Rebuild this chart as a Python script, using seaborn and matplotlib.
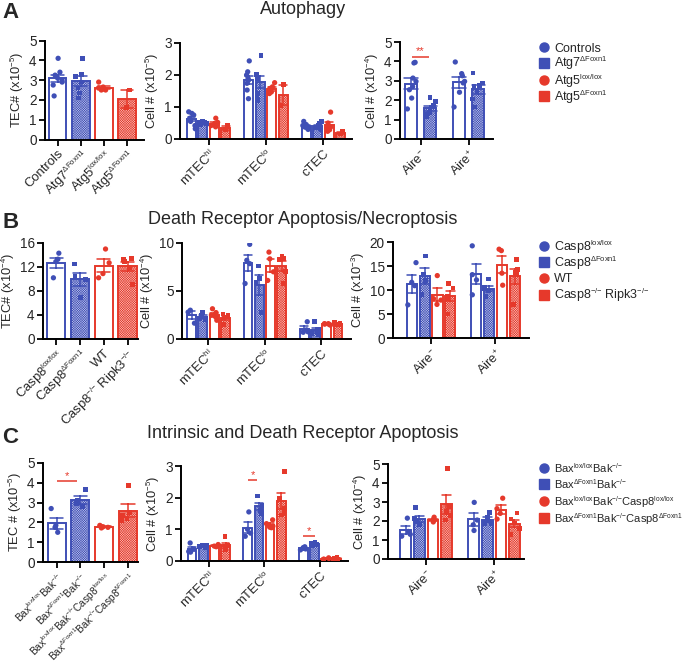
import numpy as np
import pandas as pd
import matplotlib
matplotlib.use("Agg")
import matplotlib.pyplot as plt
import seaborn as sns
from matplotlib.lines import Line2D

sns.set_theme(style="ticks")
plt.rcParams['font.family'] = ['Liberation Sans', 'DejaVu Sans']
plt.rcParams['mathtext.fontset'] = 'custom'
plt.rcParams['mathtext.rm'] = 'Liberation Sans'
plt.rcParams['mathtext.it'] = 'Liberation Sans:italic'
plt.rcParams['mathtext.default'] = 'regular'
plt.rcParams['hatch.linewidth'] = 0.35
# smaller superscripts, as in the original figure
try:
    import matplotlib._mathtext as _mt
    _mt.SHRINK_FACTOR = 0.6
except Exception:
    pass
np.random.seed(3)

# --- colours / styles per genotype slot ---
BLUE, RED = "#3f4fb6", "#e6392b"
COLORS = [BLUE, BLUE, RED, RED]
LIGHT = ["white", "#c3c7ea", "white", "#f6c2bc"]
HATCHED = [False, True, False, True]
MARKERS = ["o", "s", "o", "s"]

MM = "{-}/{-}"
cells = ["mTEC$^{hi}$", "mTEC$^{lo}$", "cTEC"]
aire = ["Aire$^{-}$", "Aire$^{+}$"]

# --- A: Autophagy ---
geno_a = ["Controls", "Atg7$^{ΔFoxn1}$", "Atg5$^{lox/lox}$", "Atg5$^{ΔFoxn1}$"]
tec_a = [[4.1, 3.4, 3.25, 3.1, 3.0, 2.9, 2.75, 2.2],
         [4.1, 3.3, 3.2, 2.9, 2.6, 2.35, 2.1],
         [2.9, 2.65, 2.6, 2.55, 2.5, 2.5],
         [2.5, 1.6]]
mtechi_a = [[0.85, 0.8, 0.75, 0.65, 0.6, 0.55, 0.42, 0.32],
            [0.55, 0.52, 0.5, 0.48, 0.45, 0.53, 0.5],
            [0.65, 0.52, 0.48, 0.45, 0.42, 0.38],
            [0.42, 0.29]]
mteclo_a = [[2.44, 2.1, 2.0, 1.9, 1.84, 1.74, 1.53, 1.26],
            [2.6, 2.03, 2.0, 1.9, 1.42, 1.26, 1.21],
            [1.76, 1.63, 1.58, 1.53, 1.47, 1.42],
            [1.7, 1.05]]
ctec_a = [[0.55, 0.45, 0.42, 0.4, 0.37, 0.33, 0.3, 0.36],
          [0.55, 0.48, 0.42, 0.38, 0.34, 0.3, 0.33],
          [0.84, 0.5, 0.38, 0.34, 0.29, 0.24],
          [0.23, 0.16]]
aire_neg_a = [[3.95, 3.92, 3.14, 2.97, 2.7, 2.54, 2.11, 1.55],
              [2.15, 1.94, 1.72, 1.51, 1.34, 1.25, 1.17]]
aire_pos_a = [[3.97, 3.37, 3.26, 2.97, 2.89, 2.41, 1.65],
              [3.4, 2.89, 2.75, 2.71, 2.46, 2.06, 1.65]]

# --- B: Death receptor apoptosis / necroptosis ---
geno_b = ["Casp8$^{lox/lox}$", "Casp8$^{ΔFoxn1}$", "WT",
          "Casp8$^{" + MM + "}$ Ripk3$^{" + MM + "}$"]
tec_b = [[14.3, 13.3, 12.9, 10.2], [12.5, 10.4, 9.9, 6.9],
         [15.0, 12.7, 10.9, 10.2], [13.4, 13.2, 12.9, 11.9, 9.1]]
mtechi_b = [[3.0, 2.8, 1.65], [2.75, 2.5, 2.2, 2.0, 2.1],
            [3.15, 2.75, 2.5, 2.3, 1.95], [2.6, 2.45, 2.35, 2.2, 1.5]]
mteclo_b = [[9.86, 8.2, 7.85, 5.78], [7.6, 6.3, 5.9, 2.75],
            [9.05, 8.35, 7.0, 6.1], [8.6, 8.4, 8.3, 7.0, 5.8]]
ctec_b = [[1.8, 0.95, 0.75, 0.7], [1.8, 1.05, 0.7, 0.5, 0.6],
          [1.6, 1.55, 1.5, 1.45, 1.6], [1.7, 1.6, 1.55, 1.5, 1.45]]
aire_neg_b = [[15.7, 11.6, 10.9, 6.9], [17.1, 13.2, 12.0, 9.1],
              [13.0, 8.2, 7.9, 7.0], [11.3, 10.4, 8.7, 8.3, 5.0]]
aire_pos_b = [[19.2, 13.2, 12.1, 9.0], [12.3, 10.6, 10.2, 9.8, 8.6],
              [18.5, 18.2, 13.5, 11.0], [16.3, 14.2, 13.6, 13.2, 7.0]]

# --- C: Intrinsic and death receptor apoptosis ---
geno_c = ["Bax$^{lox/lox}$Bak$^{" + MM + "}$",
          "Bax$^{ΔFoxn1}$Bak$^{" + MM + "}$",
          "Bax$^{lox/lox}$Bak$^{" + MM + "}$Casp8$^{lox/lox}$",
          "Bax$^{ΔFoxn1}$Bak$^{" + MM + "}$Casp8$^{ΔFoxn1}$"]
tec_c = [[2.7, 1.85, 1.75, 1.5], [3.65, 3.1, 2.95, 2.8],
         [1.85, 1.8, 1.75, 1.72, 1.78], [3.85, 2.5, 2.35, 2.2, 2.1]]
mtechi_c = [[0.57, 0.38, 0.3, 0.28], [0.5, 0.48, 0.45, 0.42],
            [0.52, 0.5, 0.47, 0.45], [0.77, 0.5, 0.45, 0.35, 0.45]]
mteclo_c = [[1.55, 1.0, 0.88, 0.78], [2.05, 1.75, 1.6, 1.5],
            [1.3, 1.18, 1.1, 1.05, 1.07], [2.82, 1.98, 1.65, 1.5, 1.45]]
ctec_c = [[0.45, 0.42, 0.38, 0.35, 0.4], [0.58, 0.55, 0.52, 0.5],
          [0.1, 0.08, 0.05, 0.06], [0.1, 0.08, 0.06, 0.04, 0.07]]
aire_neg_c = [[2.15, 1.45, 1.3, 1.2], [2.7, 2.15, 2.0, 1.95, 1.8],
              [2.2, 2.1, 2.05, 1.95], [4.75, 2.75, 2.5, 2.3, 2.05]]
aire_pos_c = [[2.98, 2.05, 1.8, 1.5], [2.45, 2.2, 2.0, 1.85, 1.85],
              [3.2, 2.65, 2.4, 2.1], [2.42, 2.1, 1.9, 1.6, 1.3]]


def long_df(cats, groups, genos):
    rows = []
    for cat, per_geno in zip(cats, groups):
        for g, vals in zip(genos, per_geno):
            rows += [(cat, g, v) for v in vals]
    return pd.DataFrame(rows, columns=["cat", "geno", "value"])


def draw(ax, df, x, order, genos, width, jitter, gap=0.0):
    n = len(genos)
    pal = dict(zip(genos, COLORS[:n]))
    dodge = x != "geno"
    sns.barplot(data=df, x=x, y="value", hue="geno", order=order, hue_order=genos,
                palette=pal, errorbar="se", capsize=0.55, width=width, gap=gap,
                dodge=dodge, fill=False, linewidth=1.4,
                err_kws={"linewidth": 1.1}, legend=False, ax=ax)
    for k, cont in enumerate(ax.containers):
        for bar in cont:
            bar.set_facecolor(LIGHT[k])
            if HATCHED[k]:
                bar.set_hatch("x" * 14)
    for shape, idx, sz in (("o", [0, 2], 3.8), ("s", [1, 3], 3.4)):
        keep = [genos[i] for i in idx if i < n]
        sub = df[df["geno"].isin(keep)]
        sns.stripplot(data=sub, x=x, y="value", hue="geno", order=order,
                      hue_order=genos, palette=pal, dodge=dodge, jitter=jitter,
                      marker=shape, size=sz, linewidth=0, legend=False,
                      zorder=3, ax=ax)


def style(ax, xlim, top, yticks, ylabel, xfs=9):
    ax.set_xlim(*xlim)
    ax.set_ylim(0, top)
    ax.set_yticks(yticks)
    ax.set_xlabel("")
    ax.set_ylabel(ylabel, fontsize=9.3, labelpad=2)
    sns.despine(ax=ax)
    for s in ("left", "bottom"):
        ax.spines[s].set_linewidth(1.4)
        ax.spines[s].set_color("black")
    ax.tick_params(width=1.3, length=4, labelsize=9.8, pad=2, color="black")
    for lab in ax.get_xticklabels():
        lab.set_rotation(45)
        lab.set_ha("right")
        lab.set_rotation_mode("anchor")
        lab.set_fontsize(xfs)


def sig(ax, x0, x1, y, text):
    ax.plot([x0, x1], [y, y], color=RED, lw=1.1, solid_capstyle="butt")
    ax.text((x0 + x1) / 2, y, text, color=RED, ha="center", va="bottom", fontsize=8)


W, H = 685, 665
fig = plt.figure(figsize=(W / 100, H / 100), dpi=100)


def add_ax(x0, x1, ytop, ybot):
    return fig.add_axes([x0 / W, 1 - ybot / H, (x1 - x0) / W, (ybot - ytop) / H])


def key(genos, ys, fs):
    # legend drawn entry by entry so the rows keep an even pitch
    for g, y, m, c in zip(genos, ys, MARKERS, COLORS):
        fig.add_artist(Line2D([544 / W], [1 - y / H], transform=fig.transFigure,
                              marker=m, color=c, linestyle="none", markersize=6.5))
        fig.text(554 / W, 1 - (y + 4.5) / H, g, fontsize=fs, va="baseline")


rows = [
    ("A", "Autophagy", 18, 14, geno_a, tec_a, [mtechi_a, mteclo_a, ctec_a],
     [aire_neg_a, aire_pos_a], 2,
     [(45, 144, 40.5, 139.5), (180, 352, 43, 139), (400, 493, 42, 139)],
     [(-0.54, 3.73), (-0.5, 2.5), (-0.43, 1.51)],
     [(5, range(6), "TEC# (x10$^{-5}$)"), (3, range(4), "Cell # (x10$^{-5}$)"),
      (5, range(6), "Cell # (x10$^{-4}$)")], [47, 63, 80, 96], 9.4, 9),
    ("B", "Death Receptor Apoptosis/Necroptosis", 228, 224.5, geno_b, tec_b,
     [mtechi_b, mteclo_b, ctec_b], [aire_neg_b, aire_pos_b], 4,
     [(43, 138, 243, 339), (182, 351, 243, 339), (393, 529, 242, 338)],
     [(-0.55, 3.44), (-0.47, 2.53), (-0.59, 1.52)],
     [(16, range(0, 17, 4), "TEC# (x10$^{-4}$)"), (10, [0, 5, 10], "Cell # (x10$^{-4}$)"),
      (20, range(0, 21, 5), "Cell # (x10$^{-3}$)")], [246, 262, 278, 295], 9.4, 9),
    ("C", "Intrinsic and Death Receptor Apoptosis", 443, 438.5, geno_c, tec_c,
     [mtechi_c, mteclo_c, ctec_c], [aire_neg_c, aire_pos_c], 4,
     [(43, 138, 463, 562), (181, 348, 466, 561), (388, 524, 464, 559)],
     [(-0.57, 3.42), (-0.5, 2.5), (-0.56, 1.44)],
     [(5, range(6), "TEC # (x10$^{-5}$)"), (3, range(4), "Cell # (x10$^{-5}$)"),
      (5, range(6), "Cell # (x10$^{-4}$)")], [468, 484, 501, 518], 7.3, 8.0),
]

axes = {}
for (letter, title, ly, ty, genos, tec, cell_groups, aire_groups, n3,
     rects, xlims, yspec, leg_y, xfs, lfs) in rows:
    fig.text(2 / W, 1 - ly / H, letter, fontsize=16, fontweight="bold", va="baseline")
    fig.text(303 / W, 1 - ty / H, title, fontsize=13, ha="center", va="baseline")

    ax1 = add_ax(*rects[0])
    df1 = pd.DataFrame([(g, g, v) for g, vals in zip(genos, tec) for v in vals],
                       columns=["cat", "geno", "value"])
    draw(ax1, df1, "geno", genos, genos, 0.76, 0.25)

    ax2 = add_ax(*rects[1])
    draw(ax2, long_df(cells, cell_groups, genos), "cat", cells, genos, 0.8, 0.28, gap=0.22)

    ax3 = add_ax(*rects[2])
    g3 = genos[:n3]
    draw(ax3, long_df(aire, aire_groups, g3), "cat", aire, g3, 0.8,
         0.28 if n3 == 4 else 0.25, gap=0.22 if n3 == 4 else 0.35)

    for i, (ax, xl, (top, yt, yl)) in enumerate(zip((ax1, ax2, ax3), xlims, yspec)):
        style(ax, xl, top, list(yt), yl, xfs if i == 0 else 9.4)
    axes[letter] = (ax1, ax2, ax3)

    key(genos, leg_y, lfs)

# significance bars
sig(axes["A"][2], -0.17, 0.17, 4.25, "**")
sig(axes["C"][0], 0.0, 0.85, 4.1, "*")
sig(axes["C"][1], 0.7, 0.87, 2.55, "*")
sig(axes["C"][1], 1.7, 1.9, 0.79, "*")

fig.savefig("out.png", dpi=100)
